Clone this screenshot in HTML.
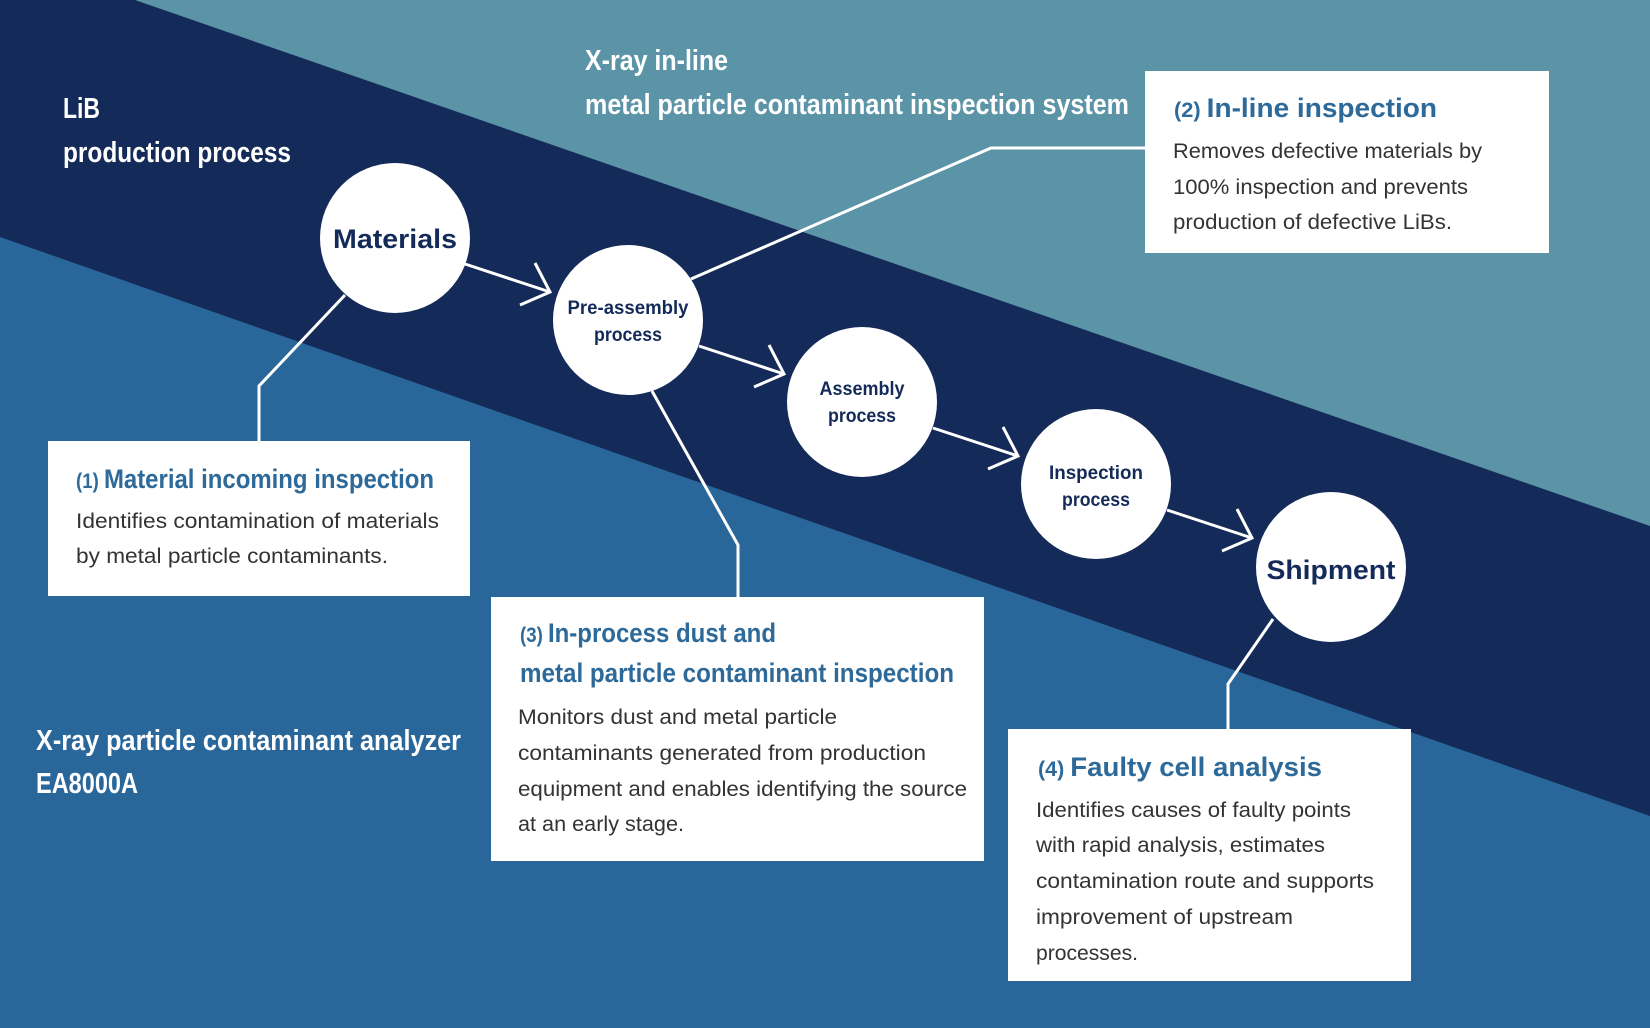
<!DOCTYPE html>
<html><head><meta charset="utf-8"><style>html,body{margin:0;padding:0;}svg{display:block}</style></head>
<body>
<svg width="1650" height="1028" viewBox="0 0 1650 1028" xmlns="http://www.w3.org/2000/svg" font-family="Liberation Sans, sans-serif">
<rect width="1650" height="1028" fill="#29679a"/>
<polygon points="0,0 1650,0 1650,816 0,237" fill="#142a58"/>
<polygon points="135,0 1650,0 1650,526" fill="#5b93a7"/>
<g stroke="#fff" stroke-width="3" fill="none">
<polyline points="345,295 259,386 259,441"/>
<polyline points="691,279 991,148 1145,148"/>
<polyline points="652,391 738,545 738,597"/>
<polyline points="1273,619 1228,684 1228,729"/>
<g id="ar"><line x1="465" y1="264" x2="550" y2="292"/><polyline points="535,263 550,292 520,305"/></g>
<use href="#ar" transform="translate(234,82)"/>
<use href="#ar" transform="translate(468,164)"/>
<use href="#ar" transform="translate(702,246)"/>
</g>
<g fill="#fff">
<circle cx="395" cy="238" r="75"/><circle cx="628" cy="320" r="75"/><circle cx="862" cy="402" r="75"/><circle cx="1096" cy="484" r="75"/><circle cx="1331" cy="567" r="75"/>
<rect x="48" y="441" width="422" height="155"/>
<rect x="1145" y="71" width="404" height="182"/>
<rect x="491" y="597" width="493" height="264"/>
<rect x="1008" y="729" width="403" height="252"/>
</g>
<g fill="#fff" font-weight="bold" font-size="29" lengthAdjust="spacingAndGlyphs">
<text x="585" y="70" textLength="143" lengthAdjust="spacingAndGlyphs">X-ray in-line</text>
<text x="585" y="114" textLength="544" lengthAdjust="spacingAndGlyphs">metal particle contaminant inspection system</text>
<text x="63" y="118" textLength="37" lengthAdjust="spacingAndGlyphs">LiB</text>
<text x="63" y="162" textLength="228" lengthAdjust="spacingAndGlyphs">production process</text>
<text x="36" y="750" textLength="425" lengthAdjust="spacingAndGlyphs">X-ray particle contaminant analyzer</text>
<text x="36" y="793" textLength="102" lengthAdjust="spacingAndGlyphs">EA8000A</text>
</g>
<g fill="#142a58" font-weight="bold" text-anchor="middle">
<text x="395" y="248" font-size="27" textLength="124" lengthAdjust="spacingAndGlyphs">Materials</text>
<text x="1331" y="579" font-size="27" textLength="129" lengthAdjust="spacingAndGlyphs">Shipment</text>
<text x="628" y="314" font-size="19" textLength="121" lengthAdjust="spacingAndGlyphs">Pre-assembly</text>
<text x="628" y="341" font-size="19" textLength="68" lengthAdjust="spacingAndGlyphs">process</text>
<text x="862" y="395" font-size="19" textLength="85" lengthAdjust="spacingAndGlyphs">Assembly</text>
<text x="862" y="422" font-size="19" textLength="68" lengthAdjust="spacingAndGlyphs">process</text>
<text x="1096" y="479" font-size="19" textLength="94" lengthAdjust="spacingAndGlyphs">Inspection</text>
<text x="1096" y="506" font-size="19" textLength="68" lengthAdjust="spacingAndGlyphs">process</text>
</g>
<g fill="#2d6a9a" font-weight="bold" font-size="27">
<text x="76" y="488" textLength="358" lengthAdjust="spacingAndGlyphs"><tspan font-size="21">(1) </tspan>Material incoming inspection</text>
<text x="1174" y="117" textLength="263" lengthAdjust="spacingAndGlyphs"><tspan font-size="21">(2) </tspan>In-line inspection</text>
<text x="520" y="642" textLength="256" lengthAdjust="spacingAndGlyphs"><tspan font-size="21">(3) </tspan>In-process dust and</text>
<text x="520" y="682" textLength="434" lengthAdjust="spacingAndGlyphs">metal particle contaminant inspection</text>
<text x="1038" y="776" textLength="284" lengthAdjust="spacingAndGlyphs"><tspan font-size="21">(4) </tspan>Faulty cell analysis</text>
</g>
<g fill="#333" font-size="21">
<text x="76" y="528" textLength="363" lengthAdjust="spacingAndGlyphs">Identifies contamination of materials</text>
<text x="76" y="563" textLength="312" lengthAdjust="spacingAndGlyphs">by metal particle contaminants.</text>
<text x="1173" y="158" textLength="309" lengthAdjust="spacingAndGlyphs">Removes defective materials by</text>
<text x="1173" y="194" textLength="295" lengthAdjust="spacingAndGlyphs">100% inspection and prevents</text>
<text x="1173" y="229" textLength="279" lengthAdjust="spacingAndGlyphs">production of defective LiBs.</text>
<text x="518" y="724" textLength="319" lengthAdjust="spacingAndGlyphs">Monitors dust and metal particle</text>
<text x="518" y="760" textLength="408" lengthAdjust="spacingAndGlyphs">contaminants generated from production</text>
<text x="518" y="796" textLength="449" lengthAdjust="spacingAndGlyphs">equipment and enables identifying the source</text>
<text x="518" y="831" textLength="166" lengthAdjust="spacingAndGlyphs">at an early stage.</text>
<text x="1036" y="817" textLength="315" lengthAdjust="spacingAndGlyphs">Identifies causes of faulty points</text>
<text x="1036" y="852" textLength="289" lengthAdjust="spacingAndGlyphs">with rapid analysis, estimates</text>
<text x="1036" y="888" textLength="338" lengthAdjust="spacingAndGlyphs">contamination route and supports</text>
<text x="1036" y="924" textLength="257" lengthAdjust="spacingAndGlyphs">improvement of upstream</text>
<text x="1036" y="960" textLength="102" lengthAdjust="spacingAndGlyphs">processes.</text>
</g>
</svg>
</body></html>
